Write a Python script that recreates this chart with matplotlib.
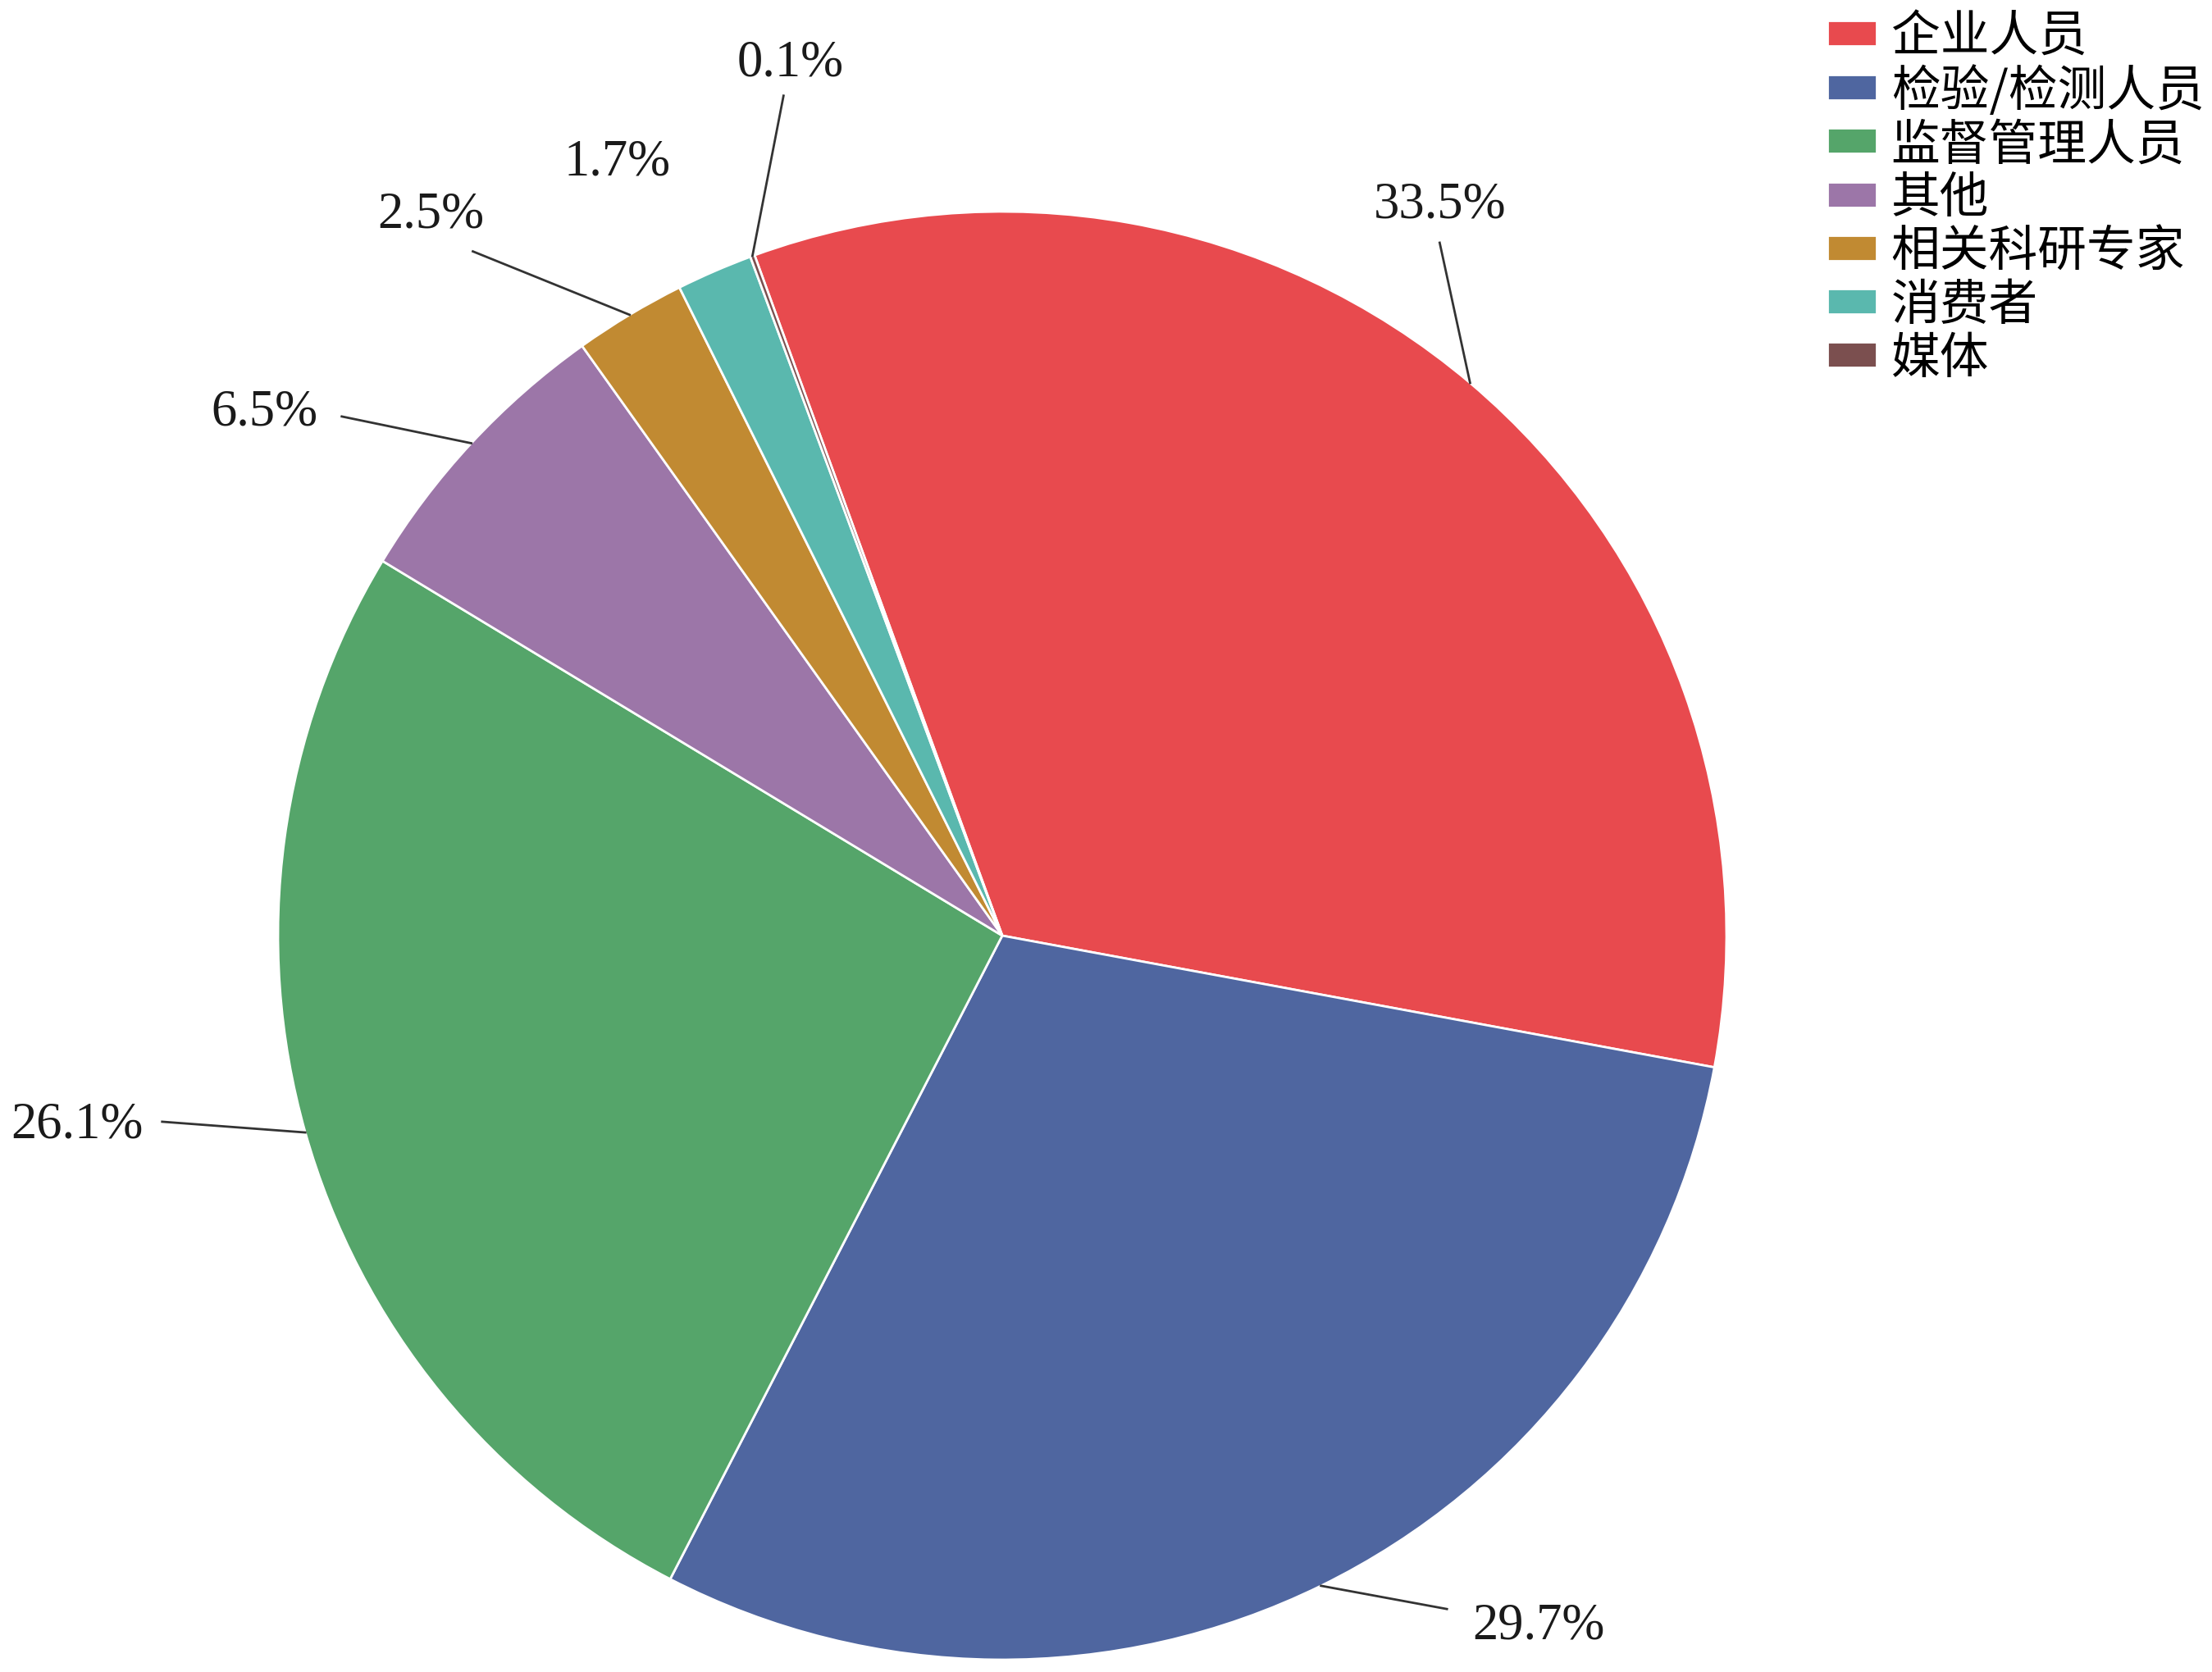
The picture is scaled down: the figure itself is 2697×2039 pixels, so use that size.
import matplotlib.pyplot as plt
import numpy as np

categories = ['企业人员', '检验/检测人员', '监督管理人员', '其他', '相关科研专家', '消费者', '媒体']
shares = [33.5, 29.7, 26.1, 6.5, 2.5, 1.7, 0.1]
colors = ['#E84A4E', '#4F66A0', '#55A56A', '#9C76A8', '#C18A32', '#5AB8AE', '#7B4F4F']

# label text spot and end of the leader line, in pie-radius units
label_xy = [(0.604, 1.010), (0.741, -0.953), (-1.277, -0.261), (-1.019, 0.723),
            (-0.789, 0.996), (-0.532, 1.068), (-0.292, 1.205)]
line_end = [(0.604, 0.957), (0.614, -0.930), (-1.160, -0.257), (-0.912, 0.717),
            (-0.731, 0.945), None, (-0.302, 1.160)]

W, H = 2697, 2040
cx, cy, R = 1222, 2040 - 1142, 883


def main():
    plt.rcParams['font.family'] = ['Noto Sans CJK SC', 'DejaVu Sans']
    fig = plt.figure(figsize=(W / 100, H / 100), dpi=100)
    ax = fig.add_axes([0, 0, 1, 1])

    wedges, _ = ax.pie(shares, colors=colors, startangle=110, counterclock=False,
                       radius=1, wedgeprops=dict(edgecolor='white', linewidth=2))

    total = sum(shares)
    start = 110.0
    for i, v in enumerate(shares):
        mid = np.radians(start - v / total * 360 / 2)
        start -= v / total * 360
        x0, y0 = np.cos(mid), np.sin(mid)
        if line_end[i] is not None:
            ax.plot([x0, line_end[i][0]], [y0, line_end[i][1]], color='#333333', lw=2)
        ax.text(label_xy[i][0], label_xy[i][1], f'{v:.1f}%', ha='center', va='center',
                fontsize=45, family='Liberation Serif', color='#1a1a1a')

    ax.set_xlim(-cx / R, (W - cx) / R)
    ax.set_ylim(-cy / R, (H - cy) / R)
    ax.set_aspect('auto')
    ax.axis('off')

    fig.legend(wedges, categories, loc='upper left',
               bbox_to_anchor=(2228 / W, 1 - 16 / H), frameon=False,
               fontsize=43, handlelength=1.0, handleheight=0.42,
               handletextpad=0.3, labelspacing=0.07, borderpad=0, borderaxespad=0)

    fig.savefig('out.png', dpi=100, facecolor='white')


if __name__ == '__main__':
    main()
